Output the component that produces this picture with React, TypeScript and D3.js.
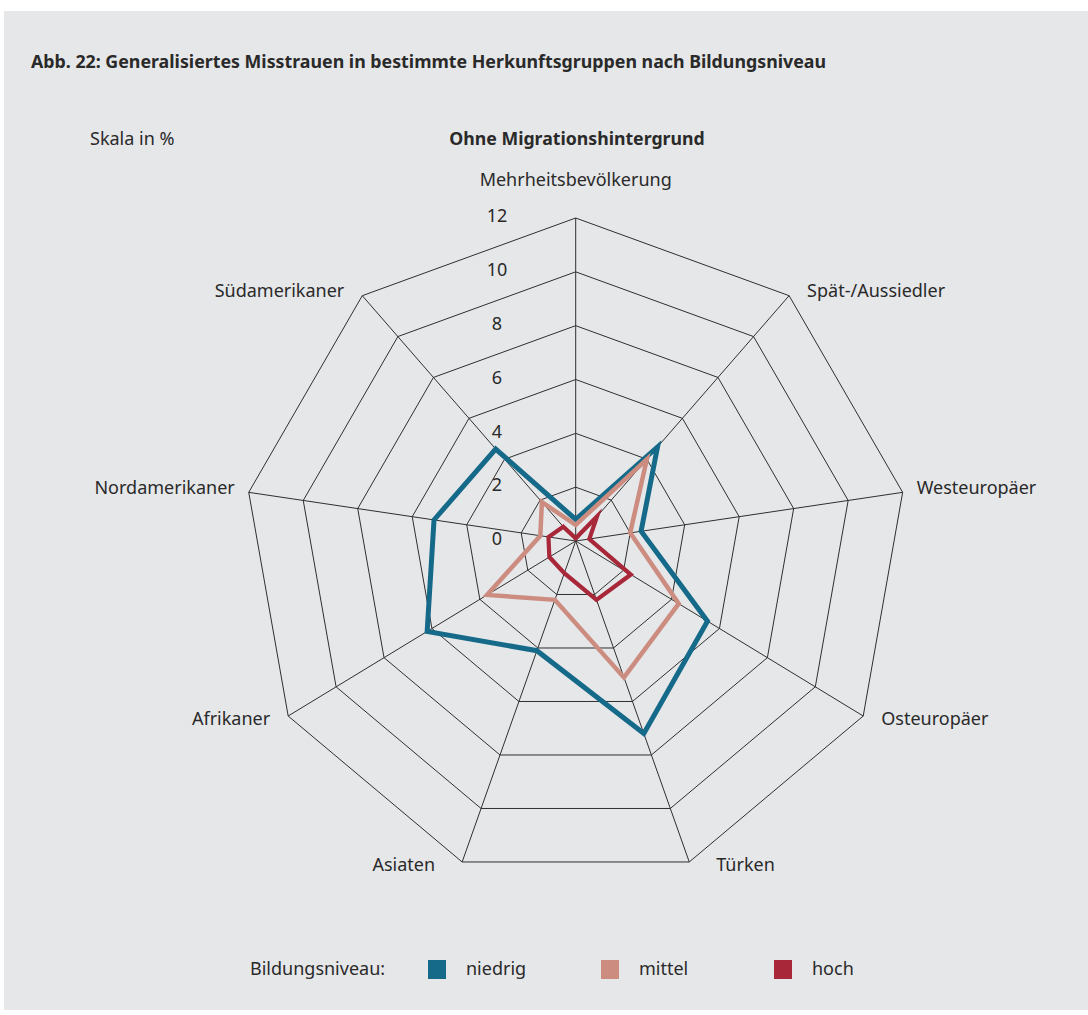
import { useEffect, useRef } from 'react'
import * as d3 from 'd3'

// categories clockwise, starting at the top
const categories = [
  'Mehrheitsbevölkerung',
  'Spät-/Aussiedler',
  'Westeuropäer',
  'Osteuropäer',
  'Türken',
  'Asiaten',
  'Afrikaner',
  'Nordamerikaner',
  'Südamerikaner',
]

const niedrig = [0.8, 4.6, 2.4, 5.5, 7.2, 4.1, 6.2, 5.2, 4.5]
const mittel = [0.6, 4.0, 2.0, 4.3, 5.1, 2.2, 3.7, 1.3, 1.9]
const hoch = [0.1, 1.2, 0.5, 2.3, 2.2, 1.2, 1.1, 1.0, 0.7]

const seriesNames = ['niedrig', 'mittel', 'hoch']
const ticks = [0, 2, 4, 6, 8, 10, 12]

export default function App() {
  const svgRef = useRef<SVGSVGElement | null>(null)

  useEffect(() => {
    if (!svgRef.current) return

    const width = 1088
    const height = 1015
    const font = '"Noto Sans", Lato, sans-serif'
    const textColor = '#2a2a2a'
    const fontSize = '18px'

    d3.select(svgRef.current).selectAll('*').remove()

    const svg = d3
      .select(svgRef.current)
      .attr('width', width)
      .attr('height', height)

    svg
      .append('rect')
      .attr('width', width)
      .attr('height', height)
      .attr('fill', '#ffffff')

    svg
      .append('rect')
      .attr('x', 4)
      .attr('y', 11)
      .attr('width', width - 4)
      .attr('height', 999)
      .attr('fill', '#e6e7e9')

    // Title
    svg
      .append('text')
      .attr('x', 31)
      .attr('y', 68)
      .style('font-family', font)
      .style('font-size', '17.8px')
      .style('font-weight', 'bold')
      .style('fill', textColor)
      .text('Abb. 22: Generalisiertes Misstrauen in bestimmte Herkunftsgruppen nach Bildungsniveau')

    svg
      .append('text')
      .attr('x', 90)
      .attr('y', 145)
      .style('font-family', font)
      .style('font-size', fontSize)
      .style('fill', textColor)
      .text('Skala in %')

    svg
      .append('text')
      .attr('x', 577)
      .attr('y', 145)
      .attr('text-anchor', 'middle')
      .style('font-family', font)
      .style('font-size', '17.7px')
      .style('font-weight', 'bold')
      .style('fill', textColor)
      .text('Ohne Migrationshintergrund')

    const cx = 575.7
    const r = d3.scaleLinear().domain([0, 12]).range([0, 332])
    // the rings sit slightly lower the further out they are
    const cy = d3.scaleLinear().domain([0, 12]).range([541, 550])
    const angle = d3
      .scaleLinear()
      .domain([0, categories.length])
      .range([0, 2 * Math.PI])

    const point = (v: number, i: number): [number, number] => {
      const a = angle(i)
      return [cx + r(v) * Math.sin(a), cy(v) - r(v) * Math.cos(a)]
    }

    const g = svg.append('g')
    const closed = d3.line().curve(d3.curveLinearClosed)

    // Grid rings
    g.selectAll('.ring')
      .data(ticks.filter(t => t > 0))
      .enter()
      .append('path')
      .attr('d', t => closed(categories.map((_, i) => point(t, i))))
      .attr('fill', 'none')
      .attr('stroke', '#2f2f2f')
      .attr('stroke-width', 1)

    // Spokes
    g.selectAll('.spoke')
      .data(categories)
      .enter()
      .append('line')
      .attr('x1', (_, i) => point(0, i)[0])
      .attr('y1', (_, i) => point(0, i)[1])
      .attr('x2', (_, i) => point(12, i)[0])
      .attr('y2', (_, i) => point(12, i)[1])
      .attr('stroke', '#2f2f2f')
      .attr('stroke-width', 1)

    // Tick labels
    g.selectAll('.tick')
      .data(ticks)
      .enter()
      .append('text')
      .attr('x', 497)
      .attr('y', t => point(t, 0)[1] - 2)
      .attr('dy', '0.35em')
      .attr('text-anchor', 'middle')
      .style('font-family', font)
      .style('font-size', fontSize)
      .style('fill', textColor)
      .text(t => t)

    // Category labels
    g.selectAll('.label')
      .data(categories)
      .enter()
      .append('text')
      .each(function (d, i) {
        const [x, y] = point(12, i)
        const s = Math.sin(angle(i))
        const c = Math.cos(angle(i))
        const t = d3.select(this)
        if (Math.abs(s) < 0.01) {
          t.attr('x', x).attr('y', y - 38).attr('text-anchor', 'middle')
        } else {
          const gap = c < -0.9 ? 27 : Math.abs(c) < 0.3 ? 14 : 18
          t.attr('x', x + Math.sign(s) * gap)
            .attr('y', y + (c > 0 ? -5 : 3))
            .attr('text-anchor', s > 0 ? 'start' : 'end')
        }
      })
      .attr('dy', '0.35em')
      .style('font-family', font)
      .style('font-size', fontSize)
      .style('fill', textColor)
      .text(d => d)

    // Series
    const colors = ['#166a89', '#cc8d80', '#a8283a']
    const widths = [5, 4.5, 4.2]
    const series = [niedrig, mittel, hoch]

    g.selectAll('.series')
      .data(series)
      .enter()
      .append('path')
      .attr('d', values => closed(values.map((v, i) => point(v, i))))
      .attr('fill', 'none')
      .attr('stroke', (_, k) => colors[k])
      .attr('stroke-width', (_, k) => widths[k])
      .attr('stroke-linejoin', 'miter')
      .attr('stroke-miterlimit', 10)

    // Legend
    const legend = svg.append('g')
    legend
      .append('text')
      .attr('x', 250)
      .attr('y', 969)
      .attr('dy', '0.35em')
      .style('font-family', font)
      .style('font-size', fontSize)
      .style('fill', textColor)
      .text('Bildungsniveau:')

    const legendX = d3.scalePoint<string>().domain(seriesNames).range([428, 774])

    const items = legend
      .selectAll('.item')
      .data(seriesNames)
      .enter()
      .append('g')
      .attr('transform', d => `translate(${legendX(d)}, 960)`)

    items
      .append('rect')
      .attr('width', 18)
      .attr('height', 19)
      .attr('fill', (_, k) => colors[k])

    items
      .append('text')
      .attr('x', 38)
      .attr('y', 9)
      .attr('dy', '0.35em')
      .style('font-family', font)
      .style('font-size', fontSize)
      .style('fill', textColor)
      .text(d => d)
  }, [])

  return (
    <div style={{ position: 'absolute', left: 0, top: 0 }}>
      <svg ref={svgRef} style={{ display: 'block' }}></svg>
    </div>
  )
}
